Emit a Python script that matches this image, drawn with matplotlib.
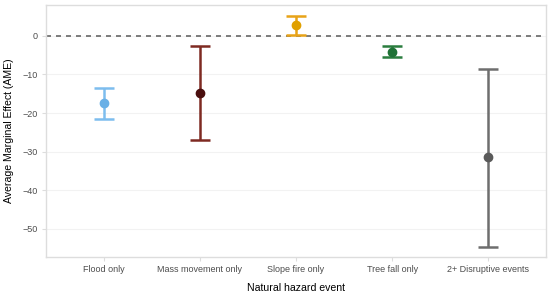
import matplotlib
matplotlib.use("Agg")
import matplotlib.pyplot as plt

categories = ["Flood only", "Mass movement only", "Slope fire only", "Tree fall only", "2+ Disruptive events"]
ame = [-17.4, -14.8, 2.7, -4.1, -31.5]
upper = [-13.6, -2.5, 5.2, -2.6, -8.5]
lower = [-21.5, -27.0, 0.1, -5.4, -54.6]
line_colors = ["#7DBDEE", "#7E2A22", "#E8A317", "#2A7D3E", "#6E6E6E"]
point_colors = ["#6AB0E6", "#4A0E0E", "#E0A000", "#1F7236", "#5A5A5A"]
yticks = [0, -10, -20, -30, -40, -50]

plt.rcParams['font.family'] = ['Liberation Sans', 'DejaVu Sans']
fig = plt.figure(figsize=(5.5, 2.97), dpi=100)
ax = fig.add_axes([46/550, 1-257/297, 500/550, 252/297])

xs = list(range(1, len(categories)+1))
for x, m, lo, hi, lc, pc in zip(xs, ame, lower, upper, line_colors, point_colors):
    ax.errorbar([x], [m], yerr=[[m-lo], [hi-m]], fmt='none', ecolor=lc,
                elinewidth=1.8, capsize=7.5, capthick=1.8, zorder=3)
    ax.plot([x], [m], 'o', color=pc, markersize=6, zorder=4)

ax.axhline(0, color="#666666", linestyle=(0, (3, 3)), linewidth=1.2, zorder=2)
ax.set_xlim(0.4, 5.6)
ax.set_ylim(-57.3, 8.0)
ax.set_xticks(xs)
ax.set_xticklabels(categories)
ax.set_yticks(yticks)
ax.set_yticklabels(["0", "\u221210", "\u221220", "\u221230", "\u221240", "\u221250"])
ax.grid(axis='y', color="#F2F2F2", linewidth=0.8, zorder=0)
ax.set_axisbelow(True)
for s in ax.spines.values():
    s.set_color("#DDDDDD")
    s.set_linewidth(1.0)
ax.tick_params(axis='both', colors="#DDDDDD", labelcolor="#4D4D4D", labelsize=6.5, length=3, pad=3)
fig.text(296/550, 1-288/297, "Natural hazard event", fontsize=7.6, color="black",
         ha='center', va='center')
ax.set_ylabel("Average Marginal Effect (AME)", fontsize=7.6, color="black", labelpad=6)

fig.savefig("out.png", dpi=100)
